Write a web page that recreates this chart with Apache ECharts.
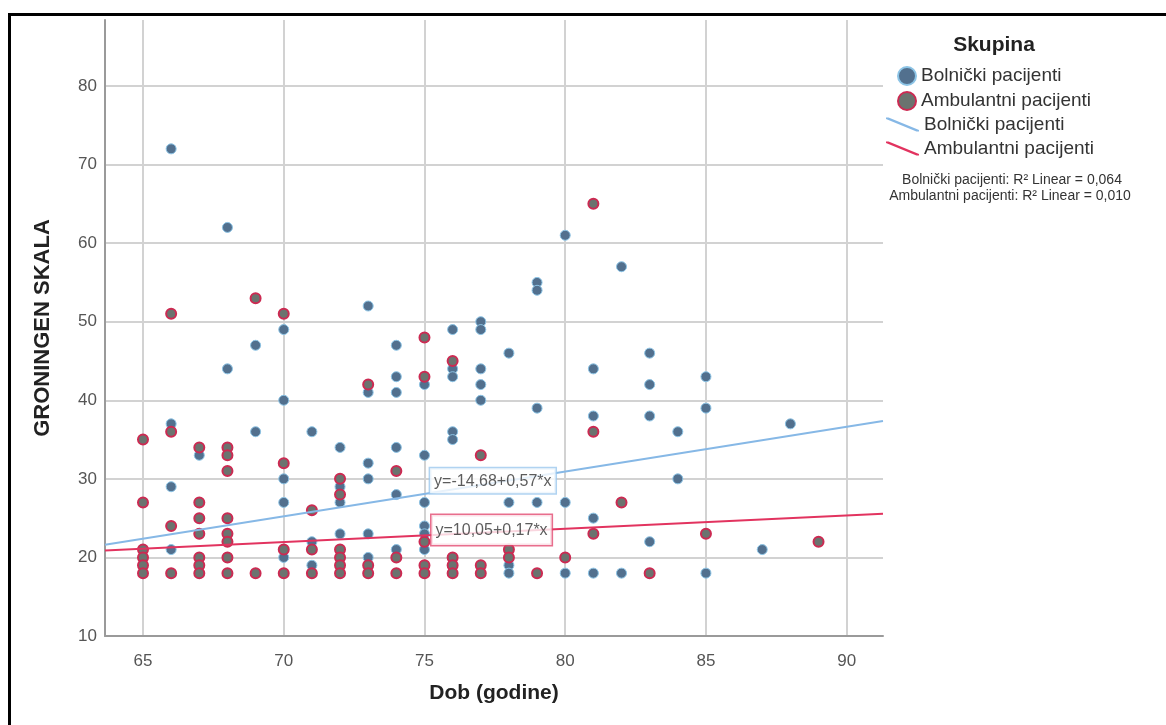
<!DOCTYPE html>
<html>
<head>
<meta charset="utf-8">
<script src="https://cdn.jsdelivr.net/npm/echarts@6/dist/echarts.min.js"></script>
<style>
html,body{margin:0;padding:0;background:#fff;}
#chart{position:absolute;left:0;top:0;width:1166px;height:725px;}
#frame{position:absolute;left:8px;top:13px;width:1170px;height:730px;border-left:3px solid #000;border-top:3px solid #000;pointer-events:none;}
</style>
</head>
<body>
<div id="chart"></div>
<div id="frame"></div>
<script>
// ---- Data ----
const groupNames = ['Bolnički pacijenti', 'Ambulantni pacijenti'];

// Bolnički pacijenti: [age, Groningen score]
const bolnickiPoints = [
  [66,72],[66,37],[66,29],[66,21],
  [67,33],[67,23],
  [68,62],[68,44],
  [69,47],[69,36],
  [70,49],[70,40],[70,30],[70,27],[70,20],
  [71,36],[71,22],[71,19],
  [72,34],[72,29],[72,27],[72,23],
  [73,52],[73,41],[73,32],[73,30],[73,23],[73,20],
  [74,47],[74,43],[74,41],[74,34],[74,28],[74,21],
  [75,42],[75,33],[75,27],[75,24],[75,23],[75,21],
  [76,49],[76,44],[76,43],[76,36],[76,35],
  [77,50],[77,49],[77,44],[77,42],[77,40],
  [78,46],[78,27],[78,19],[78,18],
  [79,55],[79,54],[79,39],[79,27],
  [80,61],[80,27],[80,18],
  [81,44],[81,38],[81,25],[81,18],
  [82,57],[82,18],
  [83,46],[83,42],[83,38],[83,22],
  [84,36],[84,30],
  [85,43],[85,39],[85,18],
  [87,21],
  [88,37]
];

// Ambulantni pacijenti: [age, Groningen score]
const ambulantniPoints = [
  [65,35],[65,27],[65,21],[65,20],[65,19],[65,18],
  [66,51],[66,36],[66,24],[66,18],
  [67,34],[67,27],[67,25],[67,23],[67,20],[67,19],[67,18],
  [68,34],[68,33],[68,31],[68,25],[68,23],[68,22],[68,20],[68,18],
  [69,53],[69,18],
  [70,51],[70,32],[70,21],[70,18],
  [71,26],[71,21],[71,18],
  [72,30],[72,28],[72,21],[72,20],[72,19],[72,18],
  [73,42],[73,19],[73,18],
  [74,31],[74,20],[74,18],
  [75,48],[75,43],[75,22],[75,19],[75,18],
  [76,45],[76,20],[76,19],[76,18],
  [77,33],[77,19],[77,18],
  [78,21],[78,20],
  [79,18],
  [80,20],
  [81,65],[81,36],[81,23],
  [82,27],
  [83,18],
  [85,23],
  [89,22]
];

// Linear fits (intercept, slope) and R² as shown
const fitIntercepts = [-14.68, 10.05];
const fitSlopes = [0.57, 0.17];
const r2Values = [0.064, 0.010];
const eqLabelX = [75.2, 75.25];

// Axis ticks
const xTicks = [65, 70, 75, 80, 85, 90];
const yTicks = [10, 20, 30, 40, 50, 60, 70, 80];
const xRange = [63.65, 91.29];
const yRange = [10, 88.4];

// ---- Styles ----
const FONT = "'Liberation Sans', Arial, sans-serif";
const blueFill = '#52708e', blueBorder = '#8cc4e6';
const redFill = '#6b736f', redBorder = '#cc2a52';
const blueLine = '#86b8e6', redLine = '#e2335f';

const fmt = v => v.toFixed(2).replace('.', ',');
const fmt3 = v => v.toFixed(3).replace('.', ',');
const eqText = i => 'y=' + fmt(fitIntercepts[i]) + '+' + fmt(fitSlopes[i]) + '*x';
const fitLine = i => xRange.map(x => [x, fitIntercepts[i] + fitSlopes[i] * x]);

const chart = echarts.init(document.getElementById('chart'), null, {renderer: 'canvas'});

const lineIcon = 'path://M0,0L2.5,0L33,12.5L33,14L30.5,14L0,1.5Z';

const option = {
  backgroundColor: '#fff',
  animation: false,
  grid: {left: 105, top: 20, right: 283, bottom: 89, containLabel: false},
  xAxis: {
    type: 'value', min: xRange[0], max: xRange[1],
    name: 'Dob (godine)', nameLocation: 'middle', nameGap: 47,
    nameTextStyle: {fontFamily: FONT, fontSize: 21, fontWeight: 'bold', color: '#222'},
    axisLine: {show: true, onZero: false, lineStyle: {color: '#9a9a9a', width: 2}},
    axisTick: {show: false, customValues: xTicks},
    axisLabel: {customValues: xTicks, fontFamily: FONT, fontSize: 17, color: '#555', margin: 17},
    splitLine: {show: true, lineStyle: {color: '#d2d2d2', width: 2}}
  },
  yAxis: {
    type: 'value', min: yRange[0], max: yRange[1],
    name: 'GRONINGEN SKALA', nameLocation: 'middle', nameGap: 51,
    nameTextStyle: {fontFamily: FONT, fontSize: 22, fontWeight: 'bold', color: '#222'},
    axisLine: {show: true, onZero: false, lineStyle: {color: '#9a9a9a', width: 2}},
    axisTick: {show: false, customValues: yTicks},
    axisLabel: {customValues: yTicks, fontFamily: FONT, fontSize: 17, color: '#555', margin: 8},
    splitLine: {show: true, lineStyle: {color: '#d2d2d2', width: 2}}
  },
  legend: [
    {
      left: 892, top: 61, orient: 'vertical', itemGap: 5, itemWidth: 18, itemHeight: 18,
      selectedMode: false, padding: 5,
      textStyle: {fontFamily: FONT, fontSize: 19, color: '#333'},
      data: [
        {name: groupNames[0], icon: 'circle', itemStyle: {color: blueFill, borderColor: blueBorder, borderWidth: 2}},
        {name: groupNames[1], icon: 'circle', itemStyle: {color: redFill, borderColor: redBorder, borderWidth: 2}}
      ]
    },
    {
      left: 881, top: 110, orient: 'vertical', itemGap: 5, itemWidth: 33, itemHeight: 14,
      selectedMode: false, padding: 5,
      textStyle: {fontFamily: FONT, fontSize: 19, color: '#333'},
      data: [
        {name: groupNames[0], icon: lineIcon, itemStyle: {color: blueLine, borderWidth: 0}},
        {name: groupNames[1], icon: lineIcon, itemStyle: {color: redLine, borderWidth: 0}}
      ]
    }
  ],
  graphic: [
    {type: 'text', x: 994, y: 45, style: {text: 'Skupina', font: 'bold 21px ' + FONT, fill: '#222', textAlign: 'center', textVerticalAlign: 'middle'}},
    {type: 'text', x: 1012, y: 180, style: {text: groupNames[0] + ': R² Linear = ' + fmt3(r2Values[0]), font: '14px ' + FONT, fill: '#333', textAlign: 'center', textVerticalAlign: 'middle'}},
    {type: 'text', x: 1010, y: 196, style: {text: groupNames[1] + ': R² Linear = ' + fmt3(r2Values[1]), font: '14px ' + FONT, fill: '#333', textAlign: 'center', textVerticalAlign: 'middle'}}
  ],
  series: [
    {
      name: groupNames[0], type: 'scatter', data: bolnickiPoints, symbolSize: 10, z: 3,
      itemStyle: {color: blueFill, borderColor: blueBorder, borderWidth: 1, opacity: 1}
    },
    {
      name: groupNames[1], type: 'scatter', data: ambulantniPoints, symbolSize: 10, z: 4,
      itemStyle: {color: redFill, borderColor: redBorder, borderWidth: 2, opacity: 1}
    },
    {
      name: groupNames[0], type: 'line', data: fitLine(0), symbol: 'none', z: 5,
      lineStyle: {color: blueLine, width: 2}, itemStyle: {color: blueLine}
    },
    {
      name: groupNames[1], type: 'line', data: fitLine(1), symbol: 'none', z: 5,
      lineStyle: {color: redLine, width: 2}, itemStyle: {color: redLine}
    },
    {
      type: 'scatter', silent: true, symbolSize: 0, z: 10,
      data: [[eqLabelX[0], fitIntercepts[0] + fitSlopes[0] * eqLabelX[0]]],
      label: {
        show: true, position: [0, -25], formatter: () => eqText(0),
        fontFamily: FONT, fontSize: 16, lineHeight: 18, color: '#333', backgroundColor: '#fff',
        borderColor: '#9cc8ee', borderWidth: 1.5, padding: [4, 4, 3, 4]
      }
    },
    {
      type: 'scatter', silent: true, symbolSize: 0, z: 10,
      data: [[eqLabelX[1], fitIntercepts[1] + fitSlopes[1] * eqLabelX[1]]],
      label: {
        show: true, position: [0, -20], formatter: () => eqText(1),
        fontFamily: FONT, fontSize: 16, lineHeight: 18, color: '#333', backgroundColor: '#fff',
        borderColor: '#e24a70', borderWidth: 1.5, padding: [6, 4, 6, 4]
      }
    }
  ]
};
chart.setOption(option);
</script>
</body>
</html>
